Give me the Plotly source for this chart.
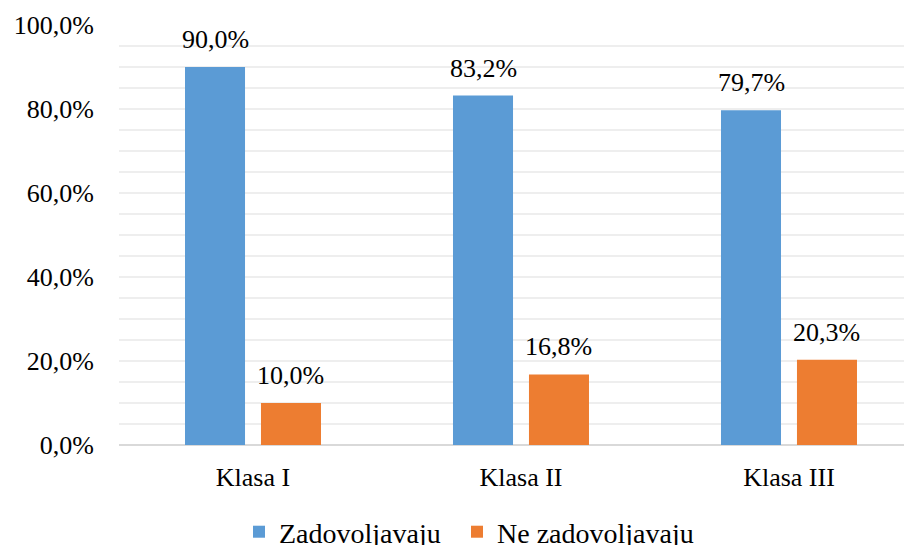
import plotly.graph_objects as go

categories = ["Klasa I", "Klasa II", "Klasa III"]
series_names = ["Zadovoljavaju", "Ne zadovoljavaju"]
zadovoljavaju = [90.0, 83.2, 79.7]
ne_zadovoljavaju = [10.0, 16.8, 20.3]
y_tickvals = [0, 20, 40, 60, 80, 100]
y_ticktext = ["0,0%", "20,0%", "40,0%", "60,0%", "80,0%", "100,0%"]

colors = ["#5B9BD5", "#ED7D31"]
FONT = "Liberation Serif"
BARGAP = 0.433
BARGROUPGAP = 0.21

def fmt(v):
    return f"{v:.1f}".replace(".", ",") + "%"

fig = go.Figure()
for i, (name, vals, col) in enumerate(zip(series_names, [zadovoljavaju, ne_zadovoljavaju], colors)):
    fig.add_trace(go.Bar(x=categories, y=vals, name=name, marker_color=col,
                         marker_line_width=0, hoverinfo="skip",
                         legend="legend" if i == 0 else "legend2"))

# data labels as annotations above each bar
slot = (1 - BARGAP) / 2
for si, vals in enumerate([zadovoljavaju, ne_zadovoljavaju]):
    off = (si - 0.5) * slot
    for ci, v in enumerate(vals):
        fig.add_annotation(x=ci + off, y=v, xref="x", yref="y", text=fmt(v),
                           showarrow=False, yanchor="bottom", yshift=11,
                           font=dict(family=FONT, size=26, color="#000000"))

legend_common = dict(orientation="h", xref="container", yref="container",
                     xanchor="left", y=0.0385, yanchor="middle",
                     font=dict(family=FONT, size=28, color="#000000"),
                     bgcolor="rgba(0,0,0,0)")

fig.update_layout(
    width=912, height=545,
    margin=dict(l=111, r=8, t=17, b=108, autoexpand=False),
    paper_bgcolor="white", plot_bgcolor="white",
    barmode="group", bargap=BARGAP, bargroupgap=BARGROUPGAP,
    font=dict(family=FONT, size=26, color="#000000"),
    showlegend=True,
    legend=dict(x=0.2533, **legend_common),
    legend2=dict(x=0.4923, **legend_common),
)
fig.update_xaxes(type="category", range=[-0.5, 2.459], showgrid=False,
                 showline=False, ticks="", ticklabelstandoff=14, automargin=False,
                 tickfont=dict(family=FONT, size=26, color="#000000"))
fig.update_yaxes(range=[0, 100], tickvals=y_tickvals, ticktext=y_ticktext,
                 showgrid=True, gridcolor="#EEEEEE", gridwidth=2, automargin=False,
                 minor=dict(dtick=5, showgrid=True, gridcolor="#EEEEEE", gridwidth=2),
                 zeroline=True, zerolinecolor="#D9D9D9", zerolinewidth=2,
                 showline=False, ticks="", ticklabelstandoff=24,
                 tickfont=dict(family=FONT, size=26, color="#000000"))

fig.write_html("out.html")
